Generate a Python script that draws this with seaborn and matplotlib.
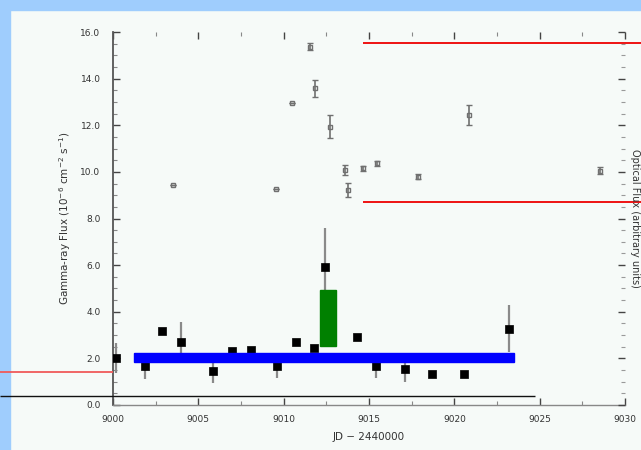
import matplotlib
matplotlib.use("Agg")
import matplotlib.pyplot as plt
import numpy as np
import pandas as pd
import seaborn as sns
from matplotlib.patches import Rectangle
from matplotlib.ticker import MultipleLocator

# Gamma-ray flux (10^-6 cm^-2 s^-1) per day
gamma_jd = [9000.2, 9001.9, 9002.85, 9004.0, 9005.85, 9006.95, 9008.1, 9009.6,
            9010.7, 9011.8, 9012.45, 9014.3, 9015.4, 9017.1, 9018.7, 9020.55, 9023.2]
gamma_flux = [2.02, 1.68, 3.17, 2.72, 1.46, 2.33, 2.36, 1.69,
              2.72, 2.43, 5.9, 2.9, 1.67, 1.54, 1.34, 1.34, 3.27]
gamma_err = [0.65, 0.55, 0.0, 0.86, 0.5, 0.0, 0.0, 0.55,
             0.0, 0.0, 1.7, 0.0, 0.5, 0.55, 0.0, 0.0, 1.0]

# Optical flux (right-hand scale)
opt_jd = [9003.5, 9009.53, 9010.47, 9011.54, 9011.83, 9012.71, 9013.6,
          9013.78, 9014.66, 9015.45, 9017.89, 9020.87, 9028.53]
opt_flux = [9.44, 9.25, 12.94, 15.37, 13.58, 11.94, 10.08,
            9.22, 10.15, 10.37, 9.79, 12.44, 10.05]
opt_err = [0.0, 0.0, 0.0, 0.15, 0.35, 0.5, 0.2,
           0.3, 0.1, 0.1, 0.1, 0.45, 0.15]

# Mean quiescent level and flare interval
mean_jd = [9001.25, 9023.5]
mean_band = [1.85, 2.23]
flare_jd = [9012.1, 9013.05]
flare_band = [2.53, 4.93]

# Reference levels
ref_hi_levels = [15.53, 8.71]
ref_hi_start = 9014.66
ref_lo_red = 1.42
ref_lo_black = 0.39
ref_lo_black_end = 9024.7

x_ticks = [9000, 9005, 9010, 9015, 9020, 9025, 9030]
y_ticks = [0, 2, 4, 6, 8, 10, 12, 14, 16]

sns.set_theme(style="ticks")
plt.rcParams["font.family"] = ["DejaVu Sans"]

fig = plt.figure(figsize=(6.41, 4.5), dpi=100, facecolor="#f6faf8")
fig.patches.append(Rectangle((0, 1 - 10 / 450), 1, 10 / 450, transform=fig.transFigure,
                             color="#9fcdfd", zorder=-5))
fig.patches.append(Rectangle((0, 0), 10 / 641, 1, transform=fig.transFigure,
                             color="#9fcdfd", zorder=-5))

ax = fig.add_axes([113 / 641, 1 - 405 / 450, (625 - 113) / 641, (405 - 32) / 450])
ax.set_facecolor("none")
ax.set_xlim(9000, 9030)
ax.set_ylim(0, 16)

ax2 = ax.twinx()
ax2.set_ylim(0, 16)
ax2.set_facecolor("none")

gdf = pd.DataFrame({"jd": gamma_jd, "flux": gamma_flux, "err": gamma_err})
odf = pd.DataFrame({"jd": opt_jd, "flux": opt_flux, "err": opt_err})

# optical points
ax2.errorbar(odf["jd"], odf["flux"], yerr=odf["err"], fmt="s", ms=3.5,
             mfc="none", mec="#707070", mew=1.0, ecolor="#707070",
             elinewidth=1.2, capsize=2.5, capthick=1.0, zorder=3)

# gamma-ray points
ax.errorbar(gdf["jd"], gdf["flux"], yerr=gdf["err"], fmt="none",
            ecolor="#8a8a8a", elinewidth=1.6, zorder=2)
sns.scatterplot(data=gdf, x="jd", y="flux", marker="s", s=28, color="black",
                edgecolor="black", linewidth=0.5, ax=ax, zorder=4, legend=False)

# mean level and flare interval
ax.add_patch(Rectangle((mean_jd[0], mean_band[0]), mean_jd[1] - mean_jd[0],
                       mean_band[1] - mean_band[0], color="#0000ff", zorder=6,
                       clip_on=False))
ax.add_patch(Rectangle((flare_jd[0], flare_band[0]), flare_jd[1] - flare_jd[0],
                       flare_band[1] - flare_band[0], color="#008000", zorder=6,
                       clip_on=False))

inv = ax.transData.inverted()
x_fig_left = inv.transform(fig.transFigure.transform((0, 0)))[0]
x_fig_right = inv.transform(fig.transFigure.transform((1, 0)))[0]

for lvl in ref_hi_levels:
    ax.plot([ref_hi_start, x_fig_right], [lvl, lvl], color="#ee0000", lw=1.3,
            clip_on=False, zorder=7, solid_capstyle="butt")
ax.plot([x_fig_left, 9000], [ref_lo_red, ref_lo_red], color="#f05a5a", lw=1.3,
        clip_on=False, zorder=7, solid_capstyle="butt")
ax.plot([x_fig_left, ref_lo_black_end], [ref_lo_black, ref_lo_black], color="#111111",
        lw=1.0, clip_on=False, zorder=7, solid_capstyle="butt")

# axes styling
for a in (ax, ax2):
    for s in ("top", "right"):
        a.spines[s].set_visible(False)
ax2.spines["left"].set_visible(False)
ax2.spines["bottom"].set_visible(False)
ax.spines["left"].set_color("#555555")
ax.spines["bottom"].set_color("#888888")
ax.spines["left"].set_linewidth(1.3)
ax.spines["bottom"].set_linewidth(1.0)

ax.set_xticks(x_ticks)
ax.set_xticklabels([str(t) for t in x_ticks])
ax.set_yticks(y_ticks)
ax.set_yticklabels([f"{t:.1f}" for t in y_ticks])
ax.xaxis.set_minor_locator(MultipleLocator(2.5))
ax.yaxis.set_minor_locator(MultipleLocator(0.5))
ax.tick_params(axis="both", which="major", direction="in", length=5, width=1,
               color="#444444", labelsize=6.5, labelcolor="#333333")
ax.tick_params(axis="x", which="major", pad=7)
ax.tick_params(axis="y", which="major", pad=9)
ax.tick_params(axis="both", which="minor", direction="in", length=3, width=0.8,
               color="#888888")
ax.tick_params(axis="x", top=True, which="both")

ax2.set_yticks(y_ticks)
ax2.yaxis.set_minor_locator(MultipleLocator(0.5))
ax2.tick_params(axis="y", which="major", direction="in", length=5, width=1,
                color="#444444", labelright=False)
ax2.tick_params(axis="y", which="minor", direction="in", length=3, width=0.8,
                color="#999999")

ax.set_xlabel("JD \u2212 2440000", fontsize=7.5, color="#333333", labelpad=6)
ax.set_ylabel("Gamma-ray Flux (10$^{-6}$ cm$^{-2}$ s$^{-1}$)", fontsize=7.5,
              color="#333333", labelpad=5)
ax2.set_ylabel("Optical Flux (arbitrary units)", fontsize=7, color="#333333",
               rotation=-90, labelpad=0, va="bottom")

fig.savefig("out.png", dpi=100, facecolor=fig.get_facecolor())
